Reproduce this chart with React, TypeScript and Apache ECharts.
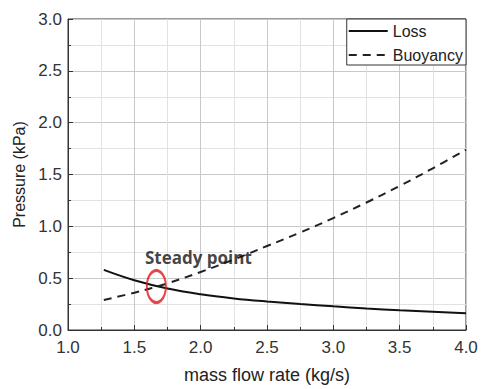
import React, { useEffect, useRef } from "react";
import * as echarts from "echarts";

const lossX = [1.27, 1.5, 1.75, 2.0, 2.25, 2.5, 2.75, 3.0, 3.25, 3.5, 3.75, 4.0];
const lossY = [0.58, 0.48, 0.40, 0.345, 0.305, 0.275, 0.25, 0.228, 0.208, 0.19, 0.175, 0.162];
const buoyX = [1.27, 1.5, 1.75, 2.0, 2.25, 2.5, 2.75, 3.0, 3.25, 3.5, 3.75, 4.0];
const buoyY = [0.29, 0.36, 0.45, 0.56, 0.68, 0.81, 0.94, 1.08, 1.23, 1.39, 1.56, 1.74];
const steadyPoint = [1.666, 0.42];
const seriesNames = ["Loss", "Buoyancy"];

export default function App() {
  const ref = useRef<HTMLDivElement>(null);
  useEffect(() => {
    const chart = echarts.init(ref.current!, null, { renderer: "svg" });
    const font = "Liberation Sans, Arial, sans-serif";
    chart.setOption({
      animation: false,
      backgroundColor: "#fff",
      grid: { left: 68, right: 16, top: 19, bottom: 56, show: true, borderColor: "#333", borderWidth: 1 },
      legend: {
        right: 16,
        top: 19,
        orient: "vertical",
        align: "left",
        itemWidth: 39,
        itemHeight: 14,
        itemGap: 8,
        padding: [4, 3, 2, 1],
        backgroundColor: "#fff",
        borderColor: "#333",
        borderWidth: 1,
        borderRadius: 0,
        itemStyle: { opacity: 0 },
        textStyle: { fontFamily: font, fontSize: 16, color: "#222" },
        data: seriesNames,
      },
      xAxis: {
        type: "value",
        min: 1,
        max: 4,
        interval: 0.5,
        name: "mass flow rate (kg/s)",
        nameLocation: "middle",
        nameGap: 36,
        nameTextStyle: { fontFamily: font, fontSize: 18, color: "#222" },
        axisLine: { show: true, lineStyle: { color: "#333", width: 1 } },
        axisTick: { inside: true, length: 5, lineStyle: { color: "#333" } },
        minorTick: { show: true, splitNumber: 2, length: 3, lineStyle: { color: "#333" } },
        axisLabel: { fontFamily: font, fontSize: 17, color: "#333", margin: 9, formatter: (v: number) => v.toFixed(1) },
        splitLine: { show: true, lineStyle: { color: "#c8c8c8", width: 1 } },
        minorSplitLine: { show: true, lineStyle: { color: "#e2e2e2", width: 1 } },
      },
      yAxis: {
        type: "value",
        min: 0,
        max: 3,
        interval: 0.5,
        name: "Pressure (kPa)",
        nameLocation: "middle",
        nameGap: 28,
        nameTextStyle: { fontFamily: font, fontSize: 16, color: "#222" },
        axisLine: { show: true, lineStyle: { color: "#333", width: 1 } },
        axisTick: { show: true, inside: true, length: 5, lineStyle: { color: "#333" } },
        minorTick: { show: true, splitNumber: 2, length: 3, lineStyle: { color: "#333" } },
        axisLabel: { fontFamily: font, fontSize: 17, color: "#333", margin: 6, formatter: (v: number) => v.toFixed(1) },
        splitLine: { show: true, lineStyle: { color: "#c8c8c8", width: 1 } },
        minorSplitLine: { show: true, lineStyle: { color: "#e2e2e2", width: 1 } },
      },
      series: [
        {
          name: seriesNames[0],
          type: "line",
          smooth: 0.4,
          symbol: "none",
          data: lossX.map((x, i) => [x, lossY[i]]),
          lineStyle: { color: "#111", width: 2 },
          itemStyle: { color: "#111" },
        },
        {
          name: seriesNames[1],
          type: "line",
          smooth: 0.4,
          symbol: "none",
          data: buoyX.map((x, i) => [x, buoyY[i]]),
          lineStyle: { color: "#222", width: 2, type: [8, 6] },
          itemStyle: { color: "#222" },
        },
        {
          name: "steady",
          type: "scatter",
          data: [steadyPoint],
          symbol: "circle",
          symbolSize: [19, 32],
          itemStyle: { color: "rgba(0,0,0,0)", borderColor: "#e0161b", borderWidth: 2.5 },
          label: {
            show: true,
            position: "top",
            formatter: "Steady point",
            offset: [42, 2],
            fontFamily: "Open Sans, Noto Sans, sans-serif",
            fontWeight: "bold",
            fontSize: 17,
            color: "#111",
          },
          z: 5,
        },
      ],
    });
    return () => chart.dispose();
  }, []);
  return <div ref={ref} style={{ width: 482, height: 389, position: "absolute", left: 0, top: 0 }} />;
}
